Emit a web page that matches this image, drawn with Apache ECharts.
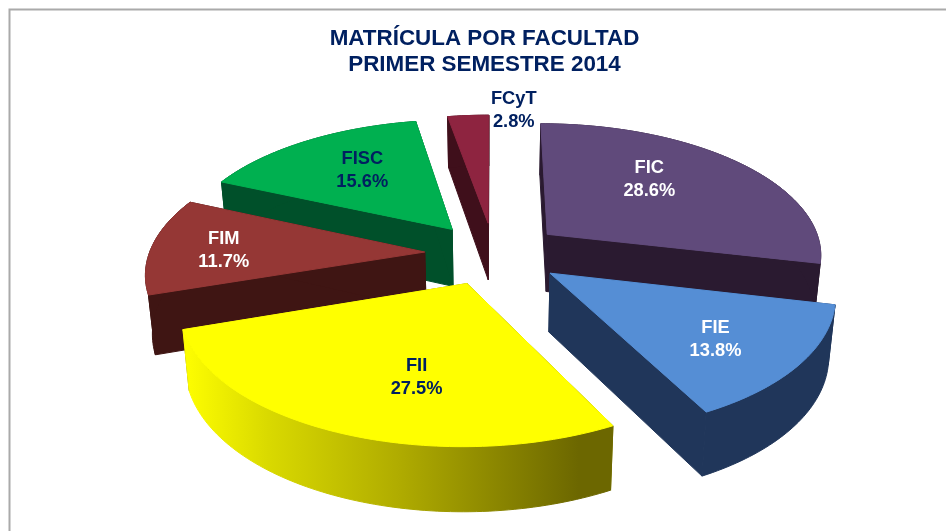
<!DOCTYPE html>
<html><head><meta charset="utf-8">
<style>html,body{margin:0;padding:0;background:#fff}#c{width:946px;height:531px}</style>
<script src="https://cdn.jsdelivr.net/npm/echarts@6/dist/echarts.min.js"></script>
</head><body><div id="c"></div>
<script>
const categories = ['FIC','FIE','FII','FIM','FISC','FCyT'];
const percents = [28.6,13.8,27.5,11.7,15.6,2.8];

const topColors = ['#604A7B','#558ED5','#FFFF00','#953735','#00B050','#8E2440'];
const wallColors = ['#2A1A30','#20365A','#8F8C00','#3F1513','#00502A','#3F0F1B'];
const labelColors = ['#FFFFFF','#FFFFFF','#002060','#FFFFFF','#002060','#002060'];
const labelNudge = [[-4,-14],[37,18],[14,17],[-54,2],[-8,-8],[37,-50]];
const FN = '"Liberation Sans", Arial, sans-serif';
const G = {cx:494, cy:253.5, rx:275.5, ry:131, p:0.14, explodeX:0.252, explodeY:0.24, height:58, squeeze:0.98, labelR:0.79};
const total = percents.reduce((a,b)=>a+b,0);

function project(u,v){
  const w = 1/(1-G.p*v);
  return [G.cx+G.rx*u*w, G.cy+G.ry*v*w, v];
}
function lower(pt){
  return [G.cx+(pt[0]-G.cx)*G.squeeze, pt[1]+G.height*(1+0.10*pt[2])];
}
function dir(a){ return [Math.sin(a),-Math.cos(a)]; }

function renderItem(params, api){
  const i = params.dataIndex;
  let before = 0;
  for(let k=0;k<i;k++) before += percents[k];
  const value = api.value(0);
  const a0 = before/total*2*Math.PI, a1 = (before+value)/total*2*Math.PI, am=(a0+a1)/2;
  const m = dir(am), ox = m[0]*G.explodeX, oy = m[1]*G.explodeY;
  const apex = project(ox,oy);
  const arc = [];
  const n = Math.max(4,Math.ceil((a1-a0)/0.02));
  for(let k=0;k<=n;k++){
    const d = dir(a0+(a1-a0)*k/n);
    arc.push(project(d[0]+ox,d[1]+oy));
  }
  const first = arc[0], last = arc[arc.length-1];
  const arcTop = arc.map(p=>[p[0],p[1]]);
  const arcLow = arc.map(lower).reverse();
  const z = Math.round((m[1]+1)*100)*10;
  let wallFill = wallColors[i];
  if(categories[i]==='FII'){
    wallFill = new echarts.graphic.LinearGradient(0,0,1,0,[
      {offset:0,color:'#FFFF00'},{offset:0.2,color:'#D9D900'},
      {offset:0.5,color:'#B0AC00'},{offset:0.92,color:'#6C6700'},{offset:1,color:'#6C6700'}]);
  }
  const poly = (pts,fill,zz)=>({type:'polygon',shape:{points:pts},z2:z+zz,
    style:{fill:fill,stroke:fill,lineWidth:1}});
  const lowApex = lower(apex);
  const lp = project(m[0]*G.labelR,m[1]*G.labelR);
  return {type:'group',children:[
    poly([[apex[0],apex[1]],[first[0],first[1]],lower(first),lowApex],wallColors[i],0),
    poly([[apex[0],apex[1]],[last[0],last[1]],lower(last),lowApex],wallColors[i],1),
    poly(arcTop.concat(arcLow),wallFill,2),
    poly([[apex[0],apex[1]]].concat(arcTop),topColors[i],3),
    {type:'text',z2:5000,x:lp[0]+labelNudge[i][0],y:lp[1]+labelNudge[i][1],
      style:{text:categories[i]+'\n'+value.toFixed(1)+'%',fill:labelColors[i],
        font:'bold 18.3px '+FN,align:'center',verticalAlign:'middle',lineHeight:23}}
  ]};
}

const chart = echarts.init(document.getElementById('c'),null,{renderer:'canvas'});
chart.setOption({
  animation:false,
  backgroundColor:'#fff',
  title:{text:'MATRÍCULA POR FACULTAD\nPRIMER SEMESTRE 2014',left:479.5,top:21,textAlign:'center',
    textStyle:{color:'#002060',fontFamily:FN,fontWeight:'bold',fontSize:22.4,lineHeight:26}},
  graphic:[{type:'polyline',shape:{points:[[9.5,531],[9.5,9.5],[946,9.5]]},
    style:{stroke:'#AAAAAA',lineWidth:2,fill:null},silent:true}],
  series:[{type:'custom',coordinateSystem:'none',renderItem:renderItem,
    data:percents.map((v,i)=>({name:categories[i],value:[v]})),silent:true,clip:false}]
});
</script></body></html>
